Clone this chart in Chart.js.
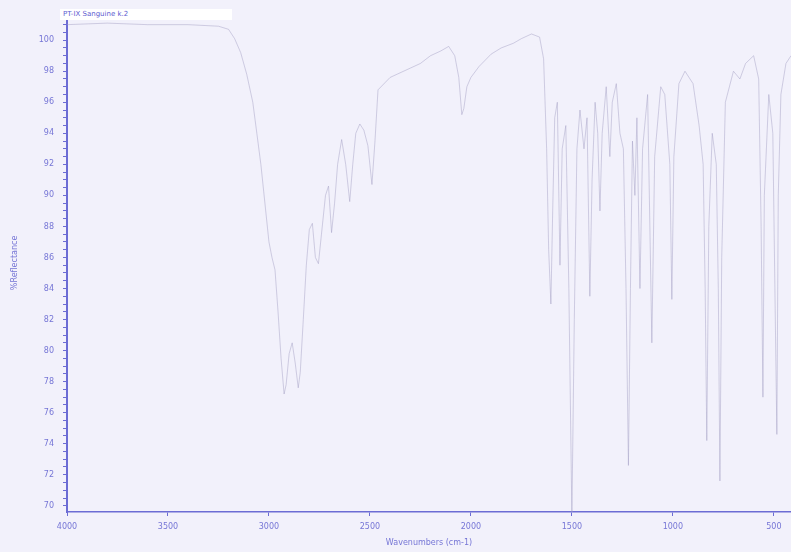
<!DOCTYPE html>
<html>
<head>
<meta charset="utf-8">
<script src="https://cdn.jsdelivr.net/npm/chart.js@4.4.1/dist/chart.umd.min.js"></script>
<style>
  body { margin: 0; background: #f2f1fb; }
  #wrap { position: relative; width: 791px; height: 552px; }
  #spec { position: absolute; left: 0; top: 0; }
  #tag {
    position: absolute; left: 60px; top: 9px; width: 172px; height: 11px;
    background: #ffffff; color: #5d5dd0; font: 7px "DejaVu Sans", sans-serif;
    line-height: 11px; padding-left: 3px; box-sizing: border-box;
  }
</style>
</head>
<body>
<div id="wrap">
  <canvas id="spec" width="791" height="552"></canvas>
  <div id="tag">PT-IX Sanguine k.2</div>
</div>
<script>
// Spectrum values (wavenumber in cm-1, %R)
var wavenumbers = [4000, 3800, 3600, 3400, 3250, 3200, 3170, 3140, 3110, 3080, 3060, 3040, 3020, 3000,
  2985, 2970, 2955, 2940, 2925, 2915, 2900, 2885, 2870, 2855, 2845, 2830, 2815, 2800, 2785, 2770,
  2755, 2740, 2720, 2705, 2690, 2675, 2660, 2640, 2620, 2600, 2585, 2570, 2550, 2530, 2510, 2490,
  2475, 2460, 2400, 2300, 2250, 2200, 2150, 2110, 2080, 2060, 2045, 2035, 2020, 2000, 1960, 1900,
  1850, 1790, 1750, 1700, 1660, 1640, 1625, 1615, 1604, 1595, 1585, 1572, 1559, 1548, 1530, 1515,
  1500, 1488, 1475, 1460, 1440, 1425, 1411, 1400, 1385, 1372, 1361, 1350, 1330, 1312, 1300, 1280,
  1262, 1245, 1232, 1220, 1210, 1200, 1188, 1178, 1163, 1150, 1125, 1104, 1090, 1060, 1040, 1015,
  1005, 995, 970, 940, 900, 870, 850, 840, 832, 822, 805, 785, 775, 767, 758, 740, 700, 668, 640,
  600, 575, 563, 554, 547, 525, 505, 485, 478, 465, 440, 415];
var reflectance = [101.0, 101.1, 101.0, 101.0, 100.9, 100.7, 100.1, 99.2, 97.8, 96.0, 94.0, 92.0, 89.5, 87.0,
  86.0, 85.2, 82.5, 79.5, 77.2, 77.8, 79.8, 80.5, 79.2, 77.6, 78.6, 82.0, 85.5, 87.8, 88.2, 86.0,
  85.6, 87.5, 90.0, 90.6, 87.6, 89.5, 92.0, 93.6, 92.0, 89.6, 92.0, 94.0, 94.6, 94.2, 93.2, 90.7,
  93.5, 96.8, 97.6, 98.2, 98.5, 99.0, 99.3, 99.6, 99.0, 97.6, 95.2, 95.6, 97.0, 97.6, 98.3, 99.1,
  99.5, 99.8, 100.1, 100.4, 100.2, 98.8, 93.0, 86.5, 83.0, 89.0, 95.0, 96.0, 85.5, 93.0, 94.5, 84.0,
  69.3, 82.0, 93.0, 95.5, 93.0, 95.0, 83.5, 91.0, 96.0, 94.0, 89.0, 94.0, 97.0, 92.5, 96.0, 97.2,
  94.0, 93.0, 84.0, 72.6, 84.0, 93.5, 90.0, 95.0, 84.0, 93.0, 96.5, 80.5, 92.5, 97.0, 96.5, 92.0,
  83.3, 92.5, 97.2, 98.0, 97.2, 94.5, 92.0, 84.0, 74.2, 88.0, 94.0, 92.0, 84.0, 71.6, 86.0, 96.0, 98.0, 97.5, 98.5,
  99.0, 97.5, 88.0, 77.0, 90.0, 96.5, 94.0, 74.6, 90.0, 96.5, 98.5, 99.0];

var xTicks = [4000, 3500, 3000, 2500, 2000, 1500, 1000, 500];
var yTicks = [70, 72, 74, 76, 78, 80, 82, 84, 86, 88, 90, 92, 94, 96, 98, 100];

var axisBlue = '#6c6cd4';
var labelBlue = '#7676d6';

var points = wavenumbers.map(function (w, i) {
  return { x: w, y: reflectance[i] };
});

// minor tick marks every 0.5 %R along the y axis, labels only on yTicks
var yMinor = [];
for (var v = 70; v <= 101.5; v += 0.5) yMinor.push(v);

var ctx = document.getElementById('spec').getContext('2d');
new Chart(ctx, {
  type: 'line',
  data: {
    datasets: [{
      data: points,
      borderColor: 'rgba(160, 156, 192, 0.45)',
      borderWidth: 1,
      pointRadius: 0,
      tension: 0,
      fill: false
    }]
  },
  options: {
    responsive: false,
    animation: false,
    layout: { padding: { top: 7, right: 0, left: 0, bottom: 0 } },
    plugins: { legend: { display: false }, tooltip: { enabled: false } },
    scales: {
      x: {
        type: 'linear',
        reverse: true,
        min: 415,
        max: 4000,
        afterBuildTicks: function (scale) {
          scale.ticks = xTicks.map(function (t) { return { value: t }; });
        },
        afterFit: function (scale) { scale.height = 40; },
        grid: { drawOnChartArea: false, tickLength: 4, color: axisBlue },
        border: { color: axisBlue, width: 1.5 },
        ticks: {
          color: labelBlue, autoSkip: false, maxRotation: 0, padding: 6,
          font: { family: 'DejaVu Sans', size: 8 },
          callback: function (value) { return String(value); }
        },
        title: {
          display: true, text: 'Wavenumbers (cm-1)', color: labelBlue,
          font: { family: 'DejaVu Sans', size: 8 }, padding: { top: 0, bottom: 4 }
        }
      },
      y: {
        min: 69.6,
        max: 101.7,
        afterBuildTicks: function (scale) {
          scale.ticks = yMinor.map(function (t) { return { value: t }; });
        },
        afterFit: function (scale) { scale.width = 67; },
        grid: { drawOnChartArea: false, tickLength: 4, color: axisBlue },
        border: { color: axisBlue, width: 2 },
        ticks: {
          color: labelBlue, autoSkip: false, padding: 9,
          font: { family: 'DejaVu Sans', size: 8 },
          callback: function (value) {
            return yTicks.indexOf(value) >= 0 ? String(value) : '';
          }
        },
        title: {
          display: true, text: '%Reflectance', color: labelBlue,
          font: { family: 'DejaVu Sans', size: 8 }, padding: { top: 10, bottom: 0 }
        }
      }
    }
  }
});
</script>
</body>
</html>
